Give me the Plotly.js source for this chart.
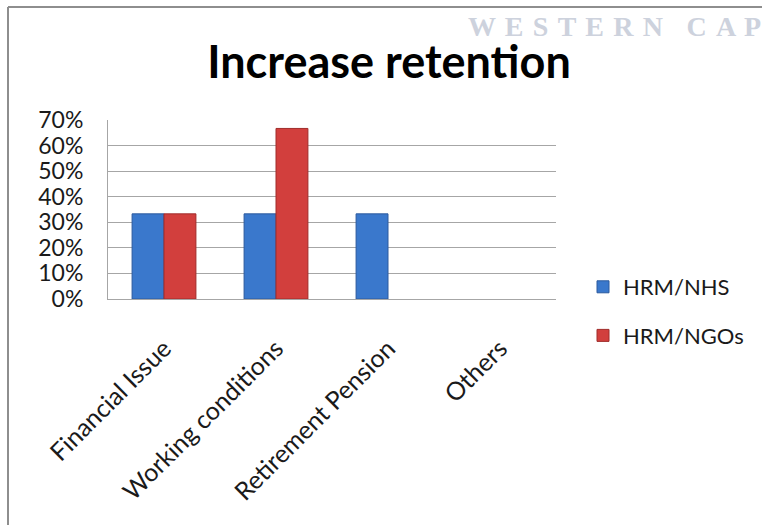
<!DOCTYPE html>
<html>
<head>
<meta charset="utf-8">
<script src="https://cdn.plot.ly/plotly-3.0.1.min.js"></script>
<style>html,body{margin:0;padding:0;background:#fff}#chart{width:762px;height:525px}</style>
</head>
<body>
<div id="chart"></div>
<script>
// Data
const categories = ["Financial Issue", "Working conditions", "Retirement Pension", "Others"];
const seriesNames = ["HRM/NHS", "HRM/NGOs"];
const nhsValues = [0.333, 0.333, 0.333, 0];
const ngoValues = [0.333, 0.667, 0, 0];
const yTickValues = [0, 0.1, 0.2, 0.3, 0.4, 0.5, 0.6, 0.7];
const chartTitle = "Increase retention";
const watermarkText = "WESTERN CAP";

// Layout geometry (pixels)
const W = 762, H = 525;
const L = 108, R = 206, T = 120, B = 226;
const pw = W - L - R, ph = H - T - B;
const px = x => (x - L) / pw;
const py = y => (H - B - y) / ph;

const font = "Lato, 'Open Sans', sans-serif";
const edge = vals => vals.map(v => (v > 0 ? 1 : 0));
// widen the letter spacing of the watermark text
const spaced = s => s.split(" ").map(w => w.split("").join(" \u200A")).join("   \u200A");

const traces = [
  {
    type: "bar", name: seriesNames[0], x: categories, y: nhsValues,
    legendgroup: "a",
    marker: { color: "#3a78cc", line: { color: "#2c5a9e", width: edge(nhsValues) } }
  },
  {
    type: "bar", name: seriesNames[1], x: categories, y: ngoValues,
    legendgroup: "b",
    marker: { color: "#d23f3d", line: { color: "#a02d2b", width: edge(ngoValues) } }
  }
];

const layout = {
  width: W, height: H,
  margin: { l: L, r: R, t: T, b: B, pad: 0, autoexpand: false },
  paper_bgcolor: "#ffffff", plot_bgcolor: "#ffffff",
  font: { family: font, color: "#1a1a1a" },
  barmode: "group",
  bargap: 0.43, bargroupgap: 0,
  showlegend: true,
  title: {
    text: chartTitle,
    font: { family: font, size: 45, weight: 700, color: "#000" },
    x: 389 / W, xref: "container", xanchor: "center",
    y: 1 - 62 / H, yref: "container", yanchor: "middle"
  },
  xaxis: {
    type: "category",
    tickangle: -45,
    tickfont: { family: font, size: 25, color: "#1a1a1a" },
    showgrid: false,
    showline: true, linecolor: "#a6a6a6", linewidth: 1,
    ticks: "", ticklabelstandoff: 24,
    automargin: false,
    fixedrange: true
  },
  yaxis: {
    range: [0, 0.7],
    tickvals: yTickValues,
    tickformat: ".0%",
    tickfont: { family: font, size: 23, color: "#1a1a1a" },
    showgrid: true, gridcolor: "#a6a6a6", gridwidth: 1,
    showline: true, linecolor: "#a6a6a6", linewidth: 1,
    zeroline: false,
    ticks: "", ticklabelstandoff: 19,
    automargin: false,
    fixedrange: true
  },
  legend: {
    xref: "container", yref: "container",
    x: 583 / W, xanchor: "left",
    y: 1 - 266 / H, yanchor: "top",
    traceorder: "grouped",
    tracegroupgap: 17,
    font: { family: font, size: 22, color: "#1a1a1a" },
    bgcolor: "rgba(0,0,0,0)"
  },
  annotations: [
    {
      text: spaced(watermarkText), showarrow: false,
      xref: "paper", yref: "paper",
      x: px(466), xanchor: "left",
      y: py(26), yanchor: "middle",
      font: { family: "'Liberation Serif', 'DejaVu Serif', serif", size: 28, weight: 700, color: "#cdd2dd" }
    }
  ],
  shapes: [
    { type: "line", xref: "paper", yref: "paper",
      x0: px(8), x1: px(8), y0: py(525), y1: py(7),
      line: { color: "#8e8e8e", width: 2 } },
    { type: "line", xref: "paper", yref: "paper",
      x0: px(8), x1: px(762), y0: py(7), y1: py(7),
      line: { color: "#8e8e8e", width: 2 } }
  ]
};

Plotly.newPlot("chart", traces, layout, { staticPlot: true, displayModeBar: false });
</script>
</body>
</html>
